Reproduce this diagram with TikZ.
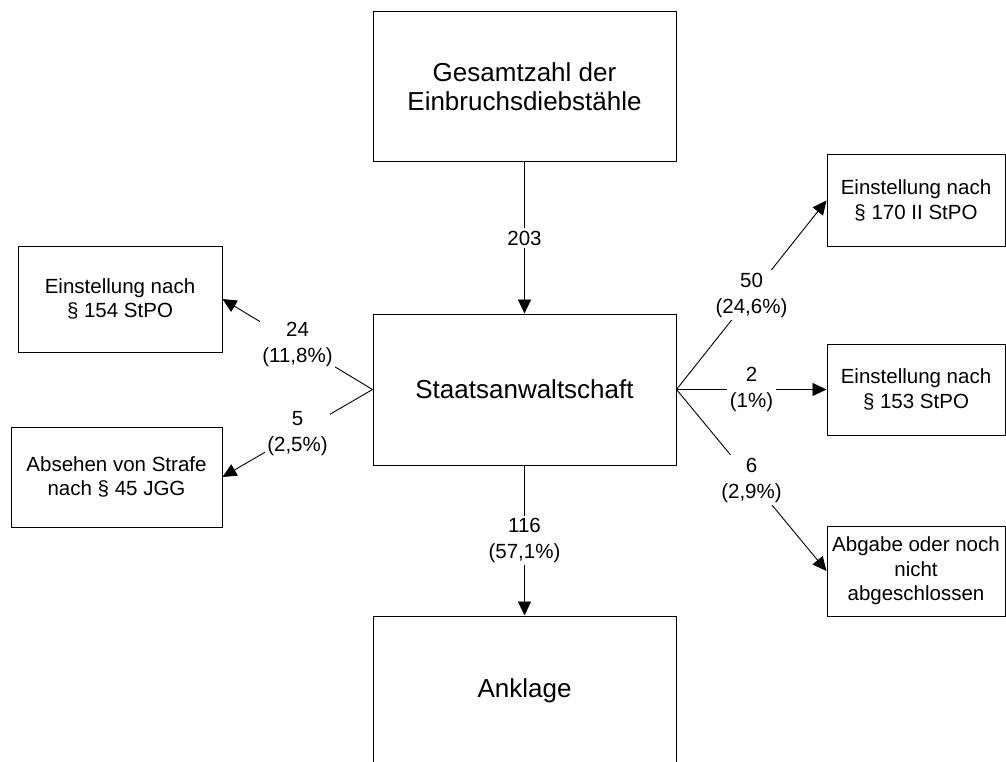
\documentclass[tikz,border=0pt]{standalone}
\usepackage{fontspec}
\setmainfont{Liberation Sans}
\usetikzlibrary{arrows.meta}
\begin{document}
\begin{tikzpicture}[x=1pt,y=-1pt,
  bigbox/.style={draw=black,line width=1pt,inner sep=0pt,minimum width=303pt,align=center,
     font=\fontsize{26}{29}\selectfont},
  smallbox/.style={draw=black,line width=1pt,inner sep=0pt,align=center,
     font=\fontsize{20.5}{24.5}\selectfont},
  conn/.style={line width=0.9pt,-{Triangle[length=14pt,width=13pt]}},
  lbl/.style={fill=white,inner sep=2.5pt,align=center,font=\fontsize{20.5}{26}\selectfont}
]
\useasboundingbox (0,0) rectangle (1006,762);
\node[bigbox,minimum height=150pt] (top) at (524.5,87) {Gesamtzahl der\\Einbruchsdiebstähle};
\node[bigbox,minimum height=151pt] (c) at (524.5,389.5) {Staatsanwaltschaft};
\node[bigbox,minimum height=150pt] (bot) at (524.5,691) {Anklage};
\node[smallbox,minimum width=204pt,minimum height=106pt] (tl) at (120,299) {Einstellung nach\\§ 154 StPO};
\node[smallbox,minimum width=211pt,minimum height=100pt] (bl) at (116.5,477) {Absehen von Strafe\\nach § 45 JGG};
\node[smallbox,minimum width=178pt,minimum height=91pt] (tr) at (916,200.5) {Einstellung nach\\§ 170 II StPO};
\node[smallbox,minimum width=178pt,minimum height=91pt] (mr) at (916,389.5) {Einstellung nach\\§ 153 StPO};
\node[smallbox,minimum width=178pt,minimum height=90pt] (br) at (916,571) {Abgabe oder noch\\nicht\\abgeschlossen};
\draw[conn] (top.south) -- node[lbl] {203} (c.north);
\draw[conn] (c.south) -- node[lbl] {116\\(57,1\%)} (bot.north);
\draw[conn] (c.west) -- node[lbl] {24\\(11,8\%)} (tl.east);
\draw[conn] (c.west) -- node[lbl] {5\\(2,5\%)} (bl.east);
\draw[conn] (c.east) -- node[lbl] {50\\(24,6\%)} (tr.west);
\draw[conn] (c.east) -- node[lbl] {2\\(1\%)} (mr.west);
\draw[conn] (c.east) -- node[lbl] {6\\(2,9\%)} (br.west);
\end{tikzpicture}
\end{document}
